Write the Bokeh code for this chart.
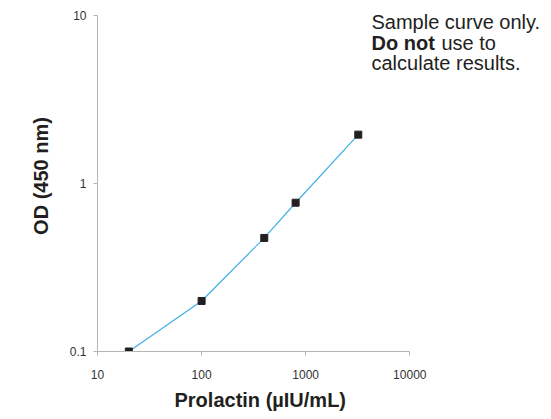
from bokeh.plotting import figure
from bokeh.models import Range1d, FixedTicker, Label, Title
from bokeh.embed import file_html
from bokeh.resources import INLINE

# data
concentration = [20, 100, 400, 800, 3200]          # µIU/mL
od_450 = [0.10, 0.20, 0.475, 0.77, 1.96]
x_ticks = [10, 100, 1000, 10000]
x_tick_labels = ["10", "100", "1000", "10000"]
y_ticks = [0.1, 1, 10]
y_tick_labels = ["0.1", "1", "10"]
x_title = "Prolactin (µIU/mL)"
y_title = "OD (450 nm)"
note_line1 = "Sample curve only."
note_bold = "Do not"
note_rest = "use to"
note_line3 = "calculate results."

FONT = "Liberation Sans"
AXIS_GRAY = "#b5b5b5"
TEXT_DARK = "#231f20"

# layout: the frame spans to the right and top edges so the note is not
# clipped; the visible axes are bounded to the data decades.
W, H = 551, 419
LEFT, BOTTOM = 97, 67
frame_w = W - LEFT
frame_h = H - BOTTOM
x_decade_px = 312.3 / 3
y_decade_px = 336.6 / 2
x_end = 10 ** (1 + frame_w / x_decade_px)
y_end = 10 ** (-1 + frame_h / y_decade_px)

p = figure(width=W, height=H, x_axis_type="log", y_axis_type="log",
           x_range=Range1d(10, x_end), y_range=Range1d(0.1, y_end),
           output_backend="svg", toolbar_location=None,
           min_border_left=LEFT, min_border_right=0,
           min_border_top=0, min_border_bottom=BOTTOM)
p.outline_line_color = None
p.xgrid.visible = False
p.ygrid.visible = False

p.line(concentration, od_450, line_color="#3fb0e3", line_width=1.2)
p.scatter(concentration, od_450, marker="square", size=7,
          fill_color=TEXT_DARK, line_color=TEXT_DARK)

for ax, ticks, labels in ((p.xaxis[0], x_ticks, x_tick_labels),
                          (p.yaxis[0], y_ticks, y_tick_labels)):
    ax.ticker = FixedTicker(ticks=ticks, minor_ticks=[])
    ax.major_label_overrides = {t: l for t, l in zip(ticks, labels)}
    ax.bounds = (ticks[0], ticks[-1])
    ax.axis_line_color = AXIS_GRAY
    ax.major_tick_line_color = AXIS_GRAY
    ax.minor_tick_line_color = None
    ax.major_tick_in = 0
    ax.major_tick_out = 4
    ax.major_label_text_font = FONT
    ax.major_label_text_font_size = "12px"
    ax.major_label_text_color = "#333333"
    ax.axis_label_text_font = FONT
    ax.axis_label_text_font_size = "20px"
    ax.axis_label_text_font_style = "bold"
    ax.axis_label_text_color = TEXT_DARK

p.xaxis.major_label_standoff = 14
p.yaxis.axis_label = y_title
p.yaxis.major_label_standoff = 7
p.yaxis.axis_label_standoff = 15

# x-axis title, centred under the bounded axis (not the wide frame)
p.add_layout(Title(text=x_title, align="left", offset=77, standoff=14,
                   vertical_align="top", text_font=FONT,
                   text_font_size="20px", text_font_style="bold",
                   text_color=TEXT_DARK), "below")

common = dict(x_units="screen", y_units="screen", text_font=FONT,
              text_font_size="20px", text_color=TEXT_DARK,
              text_baseline="alphabetic", text_align="left")
p.add_layout(Label(x=274, y=330, text=note_line1, **common))
p.add_layout(Label(x=274, y=309, text=note_bold, text_font_style="bold", **common))
p.add_layout(Label(x=344, y=309, text=note_rest, **common))
p.add_layout(Label(x=274, y=289, text=note_line3, **common))

open("out.html", "w").write(file_html(p, INLINE))
